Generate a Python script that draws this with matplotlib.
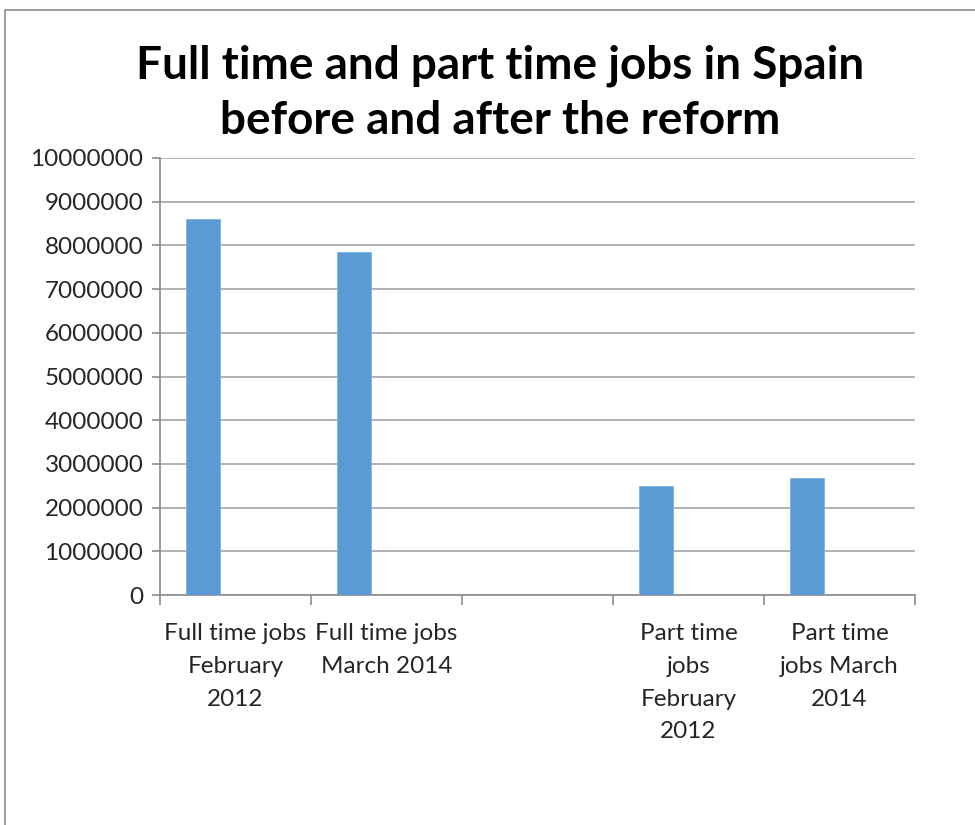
import matplotlib
matplotlib.use("Agg")
import matplotlib.pyplot as plt
from matplotlib.patches import Rectangle
import numpy as np

categories = ["Full time jobs\nFebruary\n2012", "Full time jobs\nMarch 2014", "",
              "Part time\njobs\nFebruary\n2012", "Part time\njobs March\n2014"]
values = [8600000, 7850000, np.nan, 2490000, 2680000]
yticks = [0, 1000000, 2000000, 3000000, 4000000, 5000000, 6000000, 7000000, 8000000, 9000000, 10000000]
title = "Full time and part time jobs in Spain\nbefore and after the reform"

plt.rcParams['font.family'] = ['Lato', 'DejaVu Sans']

fig = plt.figure(figsize=(9.75, 8.25), dpi=100)
fig.patches.append(Rectangle((5/975, -0.1), 1.2, 1 - 10/825 + 0.1, transform=fig.transFigure,
                             fill=False, edgecolor='#8c8c8c', linewidth=1.2, zorder=0))

ax = fig.add_axes([160/975, 1 - 595/825, 755/975, 437/825])
x = np.arange(len(categories))
ax.bar(x - 0.215, values, width=0.22, color='#5B9BD5', edgecolor='#7fb2e0', linewidth=0.6, zorder=3)

ax.set_xlim(-0.5, len(categories) - 0.5)
ax.set_ylim(0, 10000000)
ax.set_yticks(yticks)
ax.set_yticklabels([str(v) for v in yticks], fontsize=17.5, color='#262626')
ax.yaxis.grid(True, color='#a6a6a6', linewidth=1.2, zorder=0)
ax.set_axisbelow(True)

ax.set_xticks(np.arange(len(categories) + 1) - 0.5)
ax.set_xticklabels([])
ax.set_xticks(x, minor=True)
ax.set_xticklabels(categories, minor=True, fontsize=17.5, color='#262626', linespacing=1.7,
                   va='top')
ax.tick_params(axis='x', which='minor', length=0, pad=20)
ax.tick_params(axis='x', which='major', length=7, color='#8c8c8c', width=1.2)
ax.tick_params(axis='y', length=6, color='#8c8c8c', width=1.2, pad=6)

for s in ['top', 'right']:
    ax.spines[s].set_visible(False)
ax.spines['left'].set_color('#8c8c8c')
ax.spines['bottom'].set_color('#8c8c8c')
ax.spines['left'].set_linewidth(1.2)
ax.spines['bottom'].set_linewidth(1.2)

fig.text(500/975, 1 - 93/825, title, ha='center', va='center', fontsize=33,
         fontweight='bold', linespacing=1.37, color='black')

fig.savefig("out.png", dpi=100)
